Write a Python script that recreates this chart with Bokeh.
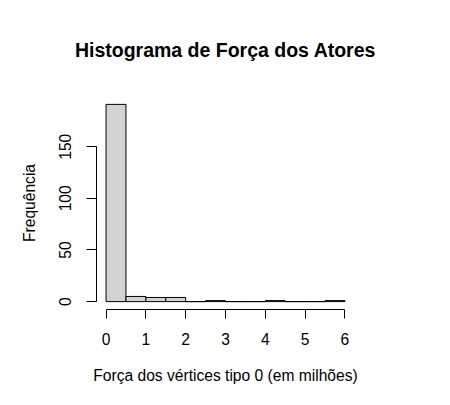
from bokeh.plotting import figure
from bokeh.models import Range1d, FixedTicker, ColumnDataSource, Title
from bokeh.embed import file_html
from bokeh.resources import INLINE

bin_left = [0.0, 0.5, 1.0, 1.5, 2.0, 2.5, 3.0, 3.5, 4.0, 4.5, 5.0, 5.5]
bin_right = [0.5, 1.0, 1.5, 2.0, 2.5, 3.0, 3.5, 4.0, 4.5, 5.0, 5.5, 6.0]
counts = [191, 5, 4, 4, 0, 1, 0, 0, 1, 0, 0, 1]
x_ticks = [0, 1, 2, 3, 4, 5, 6]
y_ticks = [0, 50, 100, 150]
title_text = "Histograma de Força dos Atores"
x_label = "Força dos vértices tipo 0 (em milhões)"
y_label = "Frequência"

FONT = "Liberation Sans"

ymax = max(counts)
p = figure(width=434, height=389, output_backend="svg", toolbar_location=None,
           x_range=Range1d(-0.24, 6.24), y_range=Range1d(-0.04 * ymax, 1.04 * ymax),
           min_border_left=96, min_border_right=80, min_border_top=96, min_border_bottom=80)
p.outline_line_color = None
p.grid.visible = False
p.background_fill_color = "white"
p.border_fill_color = "white"

src = ColumnDataSource(dict(left=bin_left, right=bin_right, top=counts, bottom=[0] * len(counts)))
p.quad(left="left", right="right", top="top", bottom="bottom", source=src,
       fill_color="#D3D3D3", line_color="black", line_width=1)

xa = p.xaxis[0]
xa.ticker = FixedTicker(ticks=x_ticks)
xa.bounds = (0, 6)
xa.axis_label = x_label
ya = p.yaxis[0]
ya.ticker = FixedTicker(ticks=y_ticks)
ya.bounds = (0, 150)
ya.axis_label = y_label
ya.major_label_orientation = "vertical"

for ax in (xa, ya):
    ax.minor_tick_line_color = None
    ax.major_tick_in = 0
    ax.major_tick_out = 10
    ax.axis_line_color = "black"
    ax.major_tick_line_color = "black"
    ax.major_label_text_font = FONT
    ax.major_label_text_font_size = "15.6px"
    ax.major_label_text_color = "black"
    ax.axis_label_text_font = FONT
    ax.axis_label_text_font_size = "15.6px"
    ax.axis_label_text_font_style = "normal"
    ax.axis_label_text_color = "black"

xa.major_tick_out = 9
xa.major_label_standoff = 14
xa.axis_label_standoff = 19
ya.major_label_standoff = 15
ya.axis_label_standoff = 19

t = Title(text=title_text, align="center", text_font=FONT, text_font_size="19.5px",
          text_font_style="bold", text_color="black", standoff=71)
p.add_layout(t, "above")

open("out.html", "w").write(file_html(p, INLINE))
